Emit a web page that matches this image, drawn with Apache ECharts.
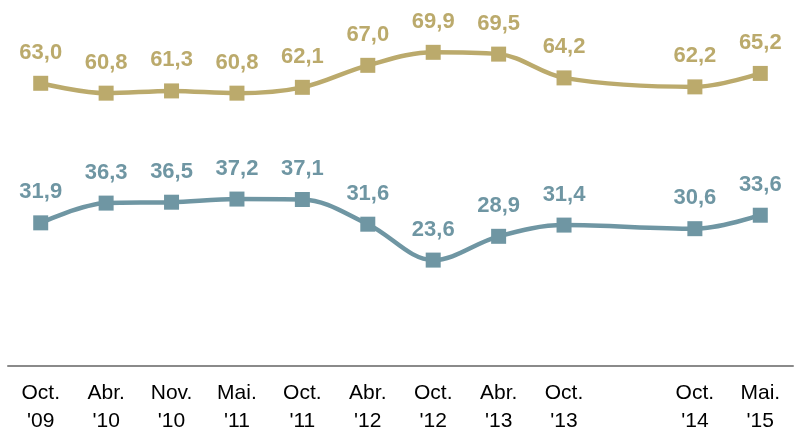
<!DOCTYPE html>
<html>
<head>
<meta charset="utf-8">
<script src="https://cdn.jsdelivr.net/npm/echarts@6/dist/echarts.min.js"></script>
<style>
  html, body { margin: 0; padding: 0; background: #fff; }
  #chart { width: 804px; height: 431px; }
</style>
</head>
<body>
<div id="chart"></div>
<script>
// categories (the empty slot is a survey round with no data)
const categories = ['Oct.\n\'09', 'Abr.\n\'10', 'Nov.\n\'10', 'Mai.\n\'11', 'Oct.\n\'11', 'Abr.\n\'12',
  'Oct.\n\'12', 'Abr.\n\'13', 'Oct.\n\'13', '', 'Oct.\n\'14', 'Mai.\n\'15']
const upperValues = [63.0, 60.8, 61.3, 60.8, 62.1, 67.0, 69.9, 69.5, 64.2, null, 62.2, 65.2]
const lowerValues = [31.9, 36.3, 36.5, 37.2, 37.1, 31.6, 23.6, 28.9, 31.4, null, 30.6, 33.6]

const gold = '#BBAA6C'
const blue = '#6F96A3'

function lineSeries(data, color) {
  return {
    type: 'line',
    data: data,
    smooth: 0.35,
    connectNulls: true,
    symbol: 'rect',
    symbolSize: 15,
    lineStyle: { color: color, width: 4.5 },
    itemStyle: { color: color },
    label: {
      show: true,
      position: 'top',
      distance: 12,
      color: color,
      fontFamily: 'Liberation Sans, Arial, sans-serif',
      fontWeight: 'bold',
      fontSize: 22,
      formatter: p => p.value.toFixed(1).replace('.', ',')
    },
    animation: false
  }
}

const chart = echarts.init(document.getElementById('chart'))
chart.setOption({
  grid: { left: 8, right: 11, top: 7, bottom: 65, outerBoundsMode: 'none', containLabel: false },
  xAxis: {
    type: 'category',
    data: categories,
    boundaryGap: true,
    axisLine: { lineStyle: { color: '#8A8A8A', width: 2 } },
    axisTick: { show: false },
    axisLabel: {
      color: '#000',
      fontFamily: 'Liberation Sans, Arial, sans-serif',
      fontSize: 21,
      lineHeight: 28,
      margin: 13,
      interval: 0
    }
  },
  yAxis: {
    type: 'value',
    min: 0,
    max: 80,
    show: false
  },
  series: [
    lineSeries(upperValues, gold),
    lineSeries(lowerValues, blue)
  ]
})
</script>
</body>
</html>
